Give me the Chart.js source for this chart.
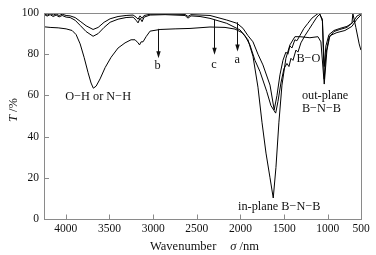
<!DOCTYPE html>
<html><head><meta charset="utf-8">
<script src="https://cdn.jsdelivr.net/npm/chart.js@4/dist/chart.umd.min.js"></script>
<style>html,body{margin:0;padding:0;background:#fff}canvas{display:block}</style>
</head><body>
<canvas id="c" width="376" height="255"></canvas>
<script>
// ---- data ----
const waveA = [4248,4214,4180,4145,4111,4077,4042,3997,3951,3894,3836,3768,3688,3630,3562,3493,3402,3310,3230,3196,3173,3150,3127,3104,3035,2864,2635,2601,2567,2349,2158,2040,1972,1914,1857,1800,1743,1662,1614,1582,1548,1514,1480,1457,1434,1411,1377,1354,1320,1274,1228,1182,1136,1102,1062,1041,1022,987,930,862,781,724,713,679,641,621];
const transA = [99.6,99.0,99.7,99.0,99.5,98.8,99.4,98.8,98.6,97.8,96,93.8,92,93,95.5,97.2,98.3,98.8,99,98,97,98.6,97.4,98.8,99.4,99.5,99.3,98.3,99.2,98.8,96.6,95,92.6,89,86,80,74.8,65,53,60,70,77,81,80,84,83,87,86.5,89,92.5,95,97.5,99,100,97,74,84,89.5,91.5,92.5,93.5,95,99.7,93,85,82];

const waveB = [4248,4180,4088,3997,3928,3882,3836,3791,3745,3711,3685,3653,3608,3550,3482,3402,3322,3253,3207,3173,3156,3138,3116,3081,3035,2921,2749,2578,2349,2177,2063,1983,1914,1857,1800,1754,1708,1662,1625,1594,1560,1525,1480,1434,1377,1320,1205,1113,1079,1041,1010,976,896,804,724,667,621];
const transB = [93.3,93.0,92.8,92.3,91.5,89.5,85,78.5,71,66,63.5,64.5,68,73.5,78.5,83,85.5,87,87,85.5,84.5,86,86,88.5,91.2,92,92.3,92.5,93.2,93,92.2,90.5,87,79,64,47,32,20,10.2,25,47,65,78,84.5,88.5,88.5,88,88.5,86,65.5,82,89,90.5,91.5,93.5,97,99];

const waveC = [4248,4214,4180,4145,4111,4077,4042,3997,3951,3894,3836,3768,3688,3630,3562,3493,3402,3310,3230,3196,3173,3150,3127,3104,3035,2864,2635,2601,2567,2463,2349,2158,2006,1949,1892,1834,1777,1700,1651,1597,1571,1537,1502,1468,1445,1422,1399,1365,1342,1308,1262,1216,1171,1125,1090,1062,1041,1022,987,930,862,781,713,667,621];
const transC = [99.3,98.5,99.2,98.3,99.0,98.1,98.8,98.0,97.8,96.5,94,91,88.7,90,93,95.5,97,97.8,98,96.5,95.2,97.5,95.8,98,99,99.2,98.8,97.5,98.6,98.3,97.4,95,91.8,89,84.5,77,71.6,62,55,51.4,57,66,73,75.5,74,78,77,82,81,85.5,89,92,95,98,99.5,96,68,80,88,91,92,93,95.5,98.5,99.5];

const X_TICKS = [4000,3500,3000,2500,2000,1500,1000];
const X_END_LABEL = '500';
const Y_TICKS = [0,20,40,60,80,100];
const X_MIN = 620, X_MAX = 4250;

const annotText = ['O\u2212H or N\u2212H','B\u2212O','out-plane','B\u2212N\u2212B','in-plane B\u2212N\u2212B','a','b','c'];
const annotWave = [3630,1222,1297,1297,1556,2037,2950,2303];
const annotT    = [59.2,77.6,60,53.5,6.1,77.2,74.5,74.8];
const annotAlign= ['center','center','left','left','center','center','center','center'];

const arrowWave = [2037,2950,2303];
const arrowFrom = [95.5,92.3,96.8];
const arrowTo   = [81.3,78,79.7];

const SERIF = '"Liberation Serif","Times New Roman",serif';

function pts(w, t){ return w.map((v,i)=>({x:v,y:t[i]})); }

const deco = {
  id:'deco',
  afterDraw(chart){
    const ctx = chart.ctx, a = chart.chartArea, xs = chart.scales.x, ys = chart.scales.y;
    ctx.save();
    // frame
    ctx.strokeStyle = '#8a8a8a'; ctx.lineWidth = 1;
    ctx.strokeRect(Math.round(a.left)+0.5, Math.round(a.top)+0.5, Math.round(a.right-a.left), Math.round(a.bottom-a.top));
    // inward ticks
    ctx.beginPath();
    X_TICKS.forEach(v=>{ const px = Math.round(xs.getPixelForValue(v))+0.5; ctx.moveTo(px, a.bottom); ctx.lineTo(px, a.bottom-4.5); });
    Y_TICKS.forEach(v=>{ if(v===0||v===100) return; const py = Math.round(ys.getPixelForValue(v))+0.5; ctx.moveTo(a.left, py); ctx.lineTo(a.left+5, py); });
    ctx.stroke();
    // annotations
    ctx.fillStyle = '#111'; ctx.textBaseline = 'middle';
    ctx.font = '12.3px ' + SERIF;
    annotText.forEach((s,i)=>{ ctx.textAlign = annotAlign[i]; ctx.fillText(s, xs.getPixelForValue(annotWave[i]), ys.getPixelForValue(annotT[i])); });
    // arrows
    ctx.strokeStyle = '#111'; ctx.lineWidth = 1;
    arrowWave.forEach((w,i)=>{
      const px = Math.round(xs.getPixelForValue(w))+0.5, y0 = ys.getPixelForValue(arrowFrom[i]), y1 = ys.getPixelForValue(arrowTo[i]);
      ctx.beginPath(); ctx.moveTo(px,y0); ctx.lineTo(px,y1-5); ctx.stroke();
      ctx.beginPath(); ctx.moveTo(px-2.2,y1-7); ctx.lineTo(px+2.2,y1-7); ctx.lineTo(px,y1); ctx.closePath(); ctx.fill();
    });
    // axis titles
    ctx.textAlign = 'left';
    // x title
    const ty = 246.5;
    let x0 = a.left + 106;
    ctx.font = '12.5px ' + SERIF; ctx.fillText('Wavenumber', x0, ty);
    x0 += ctx.measureText('Wavenumber').width + 14;
    ctx.font = 'italic 12.5px ' + SERIF; ctx.fillText('\u03C3', x0, ty);
    x0 += ctx.measureText('\u03C3').width;
    ctx.font = '12.5px ' + SERIF; ctx.fillText(' /nm', x0, ty);
    // y title
    ctx.translate(13.5, 110); ctx.rotate(-Math.PI/2);
    ctx.font = 'italic 12.5px ' + SERIF; const wT = ctx.measureText('T').width;
    ctx.font = '12.5px ' + SERIF; const wR = ctx.measureText(' /%').width;
    let s = -(wT+wR)/2;
    ctx.font = 'italic 12.5px ' + SERIF; ctx.fillText('T', s, 0);
    ctx.font = '12.5px ' + SERIF; ctx.fillText(' /%', s+wT, 0);
    ctx.restore();
  }
};

const lineStyle = {borderColor:'#000', borderWidth:1, pointRadius:0, fill:false, tension:0};

new Chart(document.getElementById('c'), {
  type:'line',
  data:{datasets:[
    Object.assign({label:'a', data:pts(waveA,transA)}, lineStyle),
    Object.assign({label:'b', data:pts(waveB,transB)}, lineStyle),
    Object.assign({label:'c', data:pts(waveC,transC)}, lineStyle)
  ]},
  options:{
    responsive:false, animation:false, devicePixelRatio:1,
    layout:{padding:{top:13,right:15,left:0,bottom:0}, autoPadding:false},
    plugins:{legend:{display:false}, tooltip:{enabled:false}},
    scales:{
      x:{type:'linear', reverse:true, min:X_MIN, max:X_MAX,
        afterBuildTicks:s=>{ s.ticks = X_TICKS.concat([X_MIN]).map(v=>({value:v})); },
        afterFit:s=>{ s.height = 36; },
        grid:{display:false, drawTicks:false}, border:{display:false},
        ticks:{autoSkip:false, maxRotation:0, padding:3, color:'#111',
          font:{family:SERIF, size:11.5},
          callback:v=> v===X_MIN ? X_END_LABEL : String(v)}
      },
      y:{min:0, max:100,
        afterBuildTicks:s=>{ s.ticks = Y_TICKS.map(v=>({value:v})); },
        afterFit:s=>{ s.width = 44; },
        grid:{display:false, drawTicks:false}, border:{display:false},
        ticks:{padding:5, color:'#111', font:{family:SERIF, size:11.5}}
      }
    }
  },
  plugins:[deco]
});
</script>
</body></html>
